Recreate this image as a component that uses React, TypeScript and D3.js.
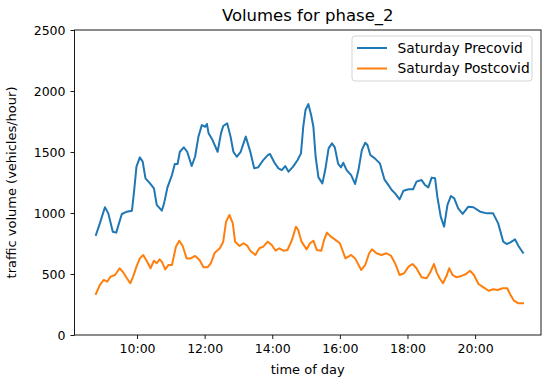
import React, { useEffect, useRef } from 'react'
import * as d3 from 'd3'

// time of day in minutes after midnight, volumes in vehicles/hour
const precovidMinutes = [
	527, 534, 543, 549, 557, 563, 573, 582, 591, 595, 599, 605, 610, 615, 623, 630, 635, 644, 648, 654,
	662, 667, 672, 676, 683, 689, 697, 703, 709, 715, 721, 724, 727, 734, 743, 749, 753, 760, 766, 771,
	777, 784, 793, 801, 808, 815, 824, 832, 836, 844, 851, 857, 863, 869, 877, 885, 891, 895, 899, 904,
	909, 913, 917, 922, 929, 934, 940, 946, 951, 957, 962, 966, 972, 980, 987, 993, 999, 1005, 1009, 1014,
	1022, 1031, 1039, 1046, 1052, 1058, 1066, 1073, 1082, 1090, 1096, 1105, 1111, 1117, 1123, 1129, 1133, 1139, 1145, 1151,
	1157, 1163, 1170, 1178, 1188, 1197, 1209, 1221, 1232, 1241, 1250, 1256, 1262, 1271, 1277, 1285
]
const precovidVolume = [
	820, 915, 1047, 997, 847, 839, 992, 1011, 1019, 1189, 1380, 1456, 1421, 1284, 1243, 1202, 1066, 1019, 1079, 1210,
	1311, 1402, 1402, 1502, 1538, 1502, 1385, 1461, 1626, 1721, 1707, 1730, 1653, 1598, 1502, 1653, 1713, 1735, 1626, 1502,
	1461, 1502, 1626, 1502, 1366, 1374, 1434, 1475, 1484, 1412, 1366, 1352, 1385, 1339, 1380, 1434, 1489, 1707, 1844, 1893,
	1803, 1707, 1461, 1292, 1243, 1352, 1530, 1571, 1538, 1402, 1374, 1412, 1352, 1311, 1238, 1352, 1516, 1576, 1557, 1475,
	1448, 1407, 1276, 1230, 1189, 1161, 1112, 1183, 1194, 1194, 1257, 1270, 1230, 1210, 1290, 1284, 1134, 970, 888, 1066,
	1139, 1120, 1038, 992, 1052, 1047, 1011, 997, 997, 915, 765, 746, 757, 784, 730, 675
]
const postcovidMinutes = [
	527, 534, 541, 547, 553, 561, 569, 576, 582, 588, 593, 599, 605, 611, 618, 624, 630, 635, 640, 644,
	650, 656, 662, 669, 675, 681, 688, 695, 703, 711, 718, 725, 731, 738, 747, 753, 758, 764, 770, 774,
	782, 789, 795, 801, 810, 817, 824, 832, 839, 846, 852, 860, 867, 875, 882, 886, 892, 901, 907, 913,
	919, 927, 932, 937, 944, 951, 960, 970, 980, 987, 998, 1005, 1012, 1017, 1025, 1034, 1043, 1051, 1058, 1066,
	1074, 1082, 1089, 1096, 1105, 1114, 1121, 1127, 1132, 1137, 1143, 1150, 1154, 1160, 1167, 1176, 1184, 1191, 1198, 1206,
	1215, 1224, 1232, 1240, 1249, 1257, 1263, 1269, 1277, 1285
]
const postcovidVolume = [
	336, 410, 451, 437, 478, 492, 547, 511, 465, 424, 478, 560, 628, 656, 601, 547, 609, 588, 620, 601,
	538, 574, 574, 724, 773, 730, 628, 628, 648, 615, 555, 555, 588, 675, 711, 765, 929, 984, 915, 765,
	730, 752, 735, 691, 656, 711, 724, 765, 738, 691, 711, 691, 697, 779, 888, 861, 765, 702, 752, 773,
	697, 691, 779, 839, 806, 784, 752, 628, 656, 628, 533, 574, 670, 702, 670, 656, 670, 648, 588, 492,
	506, 560, 582, 547, 473, 465, 519, 582, 511, 465, 424, 492, 547, 492, 473, 484, 500, 527, 492, 418,
	391, 363, 375, 369, 383, 383, 328, 281, 260, 260
]

const seriesNames = ['Saturday Precovid', 'Saturday Postcovid']
const seriesColors = ['#1f77b4', '#ff7f0e']
const xLimits = [489, 1317]
const xTickHours = [10, 12, 14, 16, 18, 20]
const yLimits = [0, 2500]
const yTicks = [0, 500, 1000, 1500, 2000, 2500]

const W = 543
const H = 383
const FONT = 'DejaVu Sans, sans-serif'

const toDate = (m: number) => new Date(2020, 0, 4, 0, m)

function App() {
	const svgRef = useRef<SVGSVGElement>(null)

	useEffect(() => {
		const svg = d3.select(svgRef.current)
		svg.selectAll('*').remove()

		const left = 74.5, right = 541, top = 30, bottom = 335

		const x = d3.scaleTime()
			.domain(xLimits.map(toDate))
			.range([left, right])
		const y = d3.scaleLinear()
			.domain(yLimits)
			.range([bottom, top])

		const series = [
			precovidMinutes.map((m, i) => ({ t: toDate(m), v: precovidVolume[i] })),
			postcovidMinutes.map((m, i) => ({ t: toDate(m), v: postcovidVolume[i] })),
		]

		const line = d3.line<{ t: Date, v: number }>()
			.x(d => x(d.t))
			.y(d => y(d.v))

		svg.append('g')
			.selectAll('path')
			.data(series)
			.join('path')
			.attr('d', d => line(d))
			.attr('fill', 'none')
			.attr('stroke', (d, i) => seriesColors[i])
			.attr('stroke-width', 2)
			.attr('stroke-linejoin', 'round')
			.attr('stroke-linecap', 'square')

		// axes
		const xAxis = d3.axisBottom(x)
			.tickValues(xTickHours.map(h => toDate(h * 60)))
			.tickFormat(d3.timeFormat('%H:%M') as any)
			.tickSize(4)
			.tickPadding(5)
		const gx = svg.append('g').attr('transform', `translate(0,${bottom})`).call(xAxis)

		const yAxis = d3.axisLeft(y)
			.tickValues(yTicks)
			.tickFormat(d3.format('d'))
			.tickSize(4)
			.tickPadding(5)
		const gy = svg.append('g').attr('transform', `translate(${left},0)`).call(yAxis)

		for (const g of [gx, gy]) {
			g.select('.domain').remove()
			g.selectAll('line').attr('stroke', '#000').attr('stroke-width', 0.9)
			g.selectAll('text')
				.attr('font-family', FONT)
				.attr('font-size', 12.5)
				.attr('fill', '#000')
		}

		// frame
		svg.append('rect')
			.attr('x', left)
			.attr('y', top)
			.attr('width', right - left)
			.attr('height', bottom - top)
			.attr('fill', 'none')
			.attr('stroke', '#000')
			.attr('stroke-width', 0.9)

		svg.append('text')
			.attr('x', (left + right) / 2)
			.attr('y', 21)
			.attr('text-anchor', 'middle')
			.attr('font-family', FONT)
			.attr('font-size', 16.5)
			.text('Volumes for phase_2')

		svg.append('text')
			.attr('x', (left + right) / 2)
			.attr('y', 374)
			.attr('text-anchor', 'middle')
			.attr('font-family', FONT)
			.attr('font-size', 13)
			.text('time of day')

		svg.append('text')
			.attr('transform', `translate(16,${(top + bottom) / 2}) rotate(-90)`)
			.attr('text-anchor', 'middle')
			.attr('font-family', FONT)
			.attr('font-size', 13)
			.text('traffic volume (vehicles/hour)')

		// legend
		const lg = svg.append('g').attr('transform', 'translate(352,36)')
		lg.append('rect')
			.attr('width', 180)
			.attr('height', 45)
			.attr('rx', 3)
			.attr('fill', '#fff')
			.attr('fill-opacity', 0.8)
			.attr('stroke', '#d0d0d0')
			.attr('stroke-width', 0.9)
		const items = lg.selectAll('g.item')
			.data(seriesNames)
			.join('g')
			.attr('class', 'item')
			.attr('transform', (d, i) => `translate(0,${12 + i * 20.5})`)
		items.append('line')
			.attr('x1', 5)
			.attr('x2', 35)
			.attr('stroke', (d, i) => seriesColors[i])
			.attr('stroke-width', 2)
		items.append('text')
			.attr('x', 45.5)
			.attr('dy', '0.35em')
			.attr('font-family', FONT)
			.attr('font-size', 13.8)
			.text(d => d)
	}, [])

	return (
		<svg ref={svgRef} width={W} height={H}
			style={{ position: 'absolute', left: 0, top: 0, background: '#fff' }} />
	)
}

export default App
